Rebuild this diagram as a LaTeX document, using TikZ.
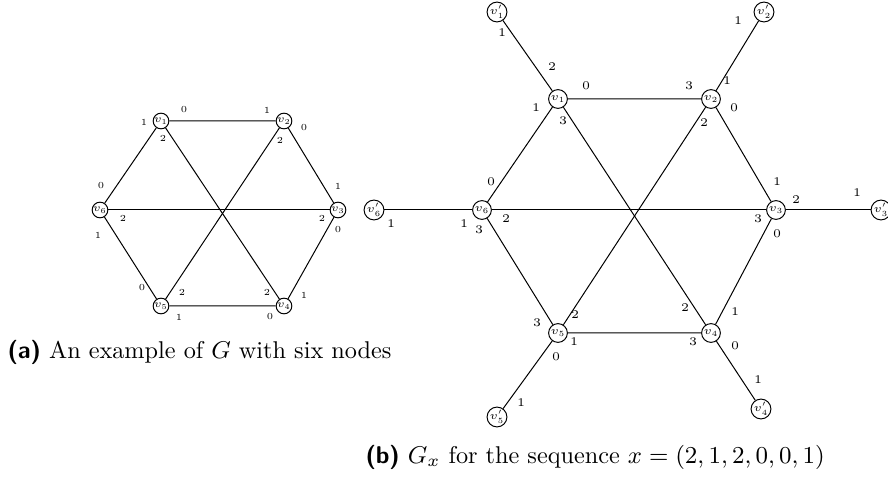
\documentclass[tikz,border=0pt]{standalone}
\usepackage{fix-cm}
\usepackage{amsmath}
\usetikzlibrary{positioning}
\tikzset{
  vtxsmall/.style={
    circle, draw, line width=0.4pt,
    minimum size=5.5pt, inner sep=0pt,
    font=\fontsize{4.3}{5}\selectfont
  },
  vtxbig/.style={
    circle, draw, line width=0.4pt,
    minimum size=7.5pt, inner sep=0pt,
    font=\fontsize{4.5}{5}\selectfont
  },
  portsmall/.style={
    inner sep=0pt, font=\fontsize{3.7}{4}\selectfont
  },
  portbig/.style={
    inner sep=0pt, font=\fontsize{4.7}{5}\selectfont
  },
  link/.style={line width=0.4pt},
  caption/.style={inner sep=0pt, font=\fontsize{9.7}{12}\selectfont}
}

\begin{document}
\begin{tikzpicture}[x=0.4pt, y=-0.4pt]
  \useasboundingbox (0,0) rectangle (888,479);

  % (a) G with six nodes
  \node[vtxsmall] (a1) at (161,121) {$v_1$};
  \node[vtxsmall] (a2) at (284,121) {$v_2$};
  \node[vtxsmall] (a3) at (338,210) {$v_3$};
  \node[vtxsmall] (a4) at (284,306) {$v_4$};
  \node[vtxsmall] (a5) at (161,306) {$v_5$};
  \node[vtxsmall] (a6) at (100,210) {$v_6$};

  \draw[link] (a1) -- (a2) -- (a3) -- (a4) -- (a5) -- (a6) -- (a1);
  \draw[link] (a1) -- (a4);
  \draw[link] (a2) -- (a5);
  \draw[link] (a3) -- (a6);

  % port numbers in (a)
  \node[portsmall] (a1p0) at (184,110) {0};
  \node[portsmall] (a1p1) at (144,122) {1};
  \node[portsmall] (a1p2) at (163,138) {2};
  \node[portsmall] (a2p1) at (267,110) {1};
  \node[portsmall] (a2p0) at (304,128) {0};
  \node[portsmall] (a2p2) at (280,140) {2};
  \node[portsmall] (a3p1) at (338,186) {1};
  \node[portsmall] (a3p2) at (322,218) {2};
  \node[portsmall] (a3p0) at (338,230) {0};
  \node[portsmall] (a6p0) at (101,186) {0};
  \node[portsmall] (a6p2) at (123,218) {2};
  \node[portsmall] (a6p1) at (98,235) {1};
  \node[portsmall] (a5p0) at (142,288) {0};
  \node[portsmall] (a5p2) at (182,292) {2};
  \node[portsmall] (a5p1) at (179,317) {1};
  \node[portsmall] (a4p2) at (267,292) {2};
  \node[portsmall] (a4p1) at (304,295) {1};
  \node[portsmall] (a4p0) at (270,317) {0};

  \node[caption, anchor=base west] (capa) at (7,359)
    {\textsf{\textbf{(a)}} An example of $G$ with six nodes};

  % (b) G_x with the extra nodes v'
  \node[vtxbig] (b1) at (558,99) {$v_1$};
  \node[vtxbig] (b2) at (711,99) {$v_2$};
  \node[vtxbig] (b3) at (776,210) {$v_3$};
  \node[vtxbig] (b4) at (711,333) {$v_4$};
  \node[vtxbig] (b5) at (558,333) {$v_5$};
  \node[vtxbig] (b6) at (482,210) {$v_6$};

  \node[vtxbig] (c1) at (497,12) {$v'_1$};
  \node[vtxbig] (c2) at (764,12) {$v'_2$};
  \node[vtxbig] (c3) at (881,210) {$v'_3$};
  \node[vtxbig] (c4) at (761,409) {$v'_4$};
  \node[vtxbig] (c5) at (497,417) {$v'_5$};
  \node[vtxbig] (c6) at (374,210) {$v'_6$};

  \draw[link] (b1) -- (b2) -- (b3) -- (b4) -- (b5) -- (b6) -- (b1);
  \draw[link] (b1) -- (b4);
  \draw[link] (b2) -- (b5);
  \draw[link] (b3) -- (b6);
  \draw[link] (b1) -- (c1);
  \draw[link] (b2) -- (c2);
  \draw[link] (b3) -- (c3);
  \draw[link] (b4) -- (c4);
  \draw[link] (b5) -- (c5);
  \draw[link] (b6) -- (c6);

  % port numbers in (b)
  \node[portbig] (c1p1) at (502,33) {1};
  \node[portbig] (b1p2) at (552,67) {2};
  \node[portbig] (b1p0) at (586,86) {0};
  \node[portbig] (b1p1) at (536,108) {1};
  \node[portbig] (b1p3) at (563,121) {3};
  \node[portbig] (b6p0) at (491,182) {0};
  \node[portbig] (b6p1) at (464,224) {1};
  \node[portbig] (b6p2) at (506,219) {2};
  \node[portbig] (b6p3) at (479,230) {3};
  \node[portbig] (c6p1) at (391,224) {1};
  \node[portbig] (b2p3) at (689,86) {3};
  \node[portbig] (b2p1) at (727,81) {1};
  \node[portbig] (b2p0) at (734,108) {0};
  \node[portbig] (b2p2) at (704,123) {2};
  \node[portbig] (c2p1) at (738,21) {1};
  \node[portbig] (b3p1) at (777,182) {1};
  \node[portbig] (b3p2) at (796,200) {2};
  \node[portbig] (b3p3) at (758,219) {3};
  \node[portbig] (b3p0) at (777,234) {0};
  \node[portbig] (c3p1) at (857,193) {1};
  \node[portbig] (b5p3) at (537,323) {3};
  \node[portbig] (b5p2) at (575,315) {2};
  \node[portbig] (b5p1) at (574,342) {1};
  \node[portbig] (b5p0) at (556,357) {0};
  \node[portbig] (c5p1) at (521,403) {1};
  \node[portbig] (b4p2) at (685,308) {2};
  \node[portbig] (b4p1) at (735,312) {1};
  \node[portbig] (b4p3) at (693,342) {3};
  \node[portbig] (b4p0) at (735,346) {0};
  \node[portbig] (c4p1) at (758,380) {1};

  \node[caption, anchor=base west] (capb) at (365,464)
    {\textsf{\textbf{(b)}} $G_x$ for the sequence $x=(2,1,2,0,0,1)$};
\end{tikzpicture}
\end{document}
